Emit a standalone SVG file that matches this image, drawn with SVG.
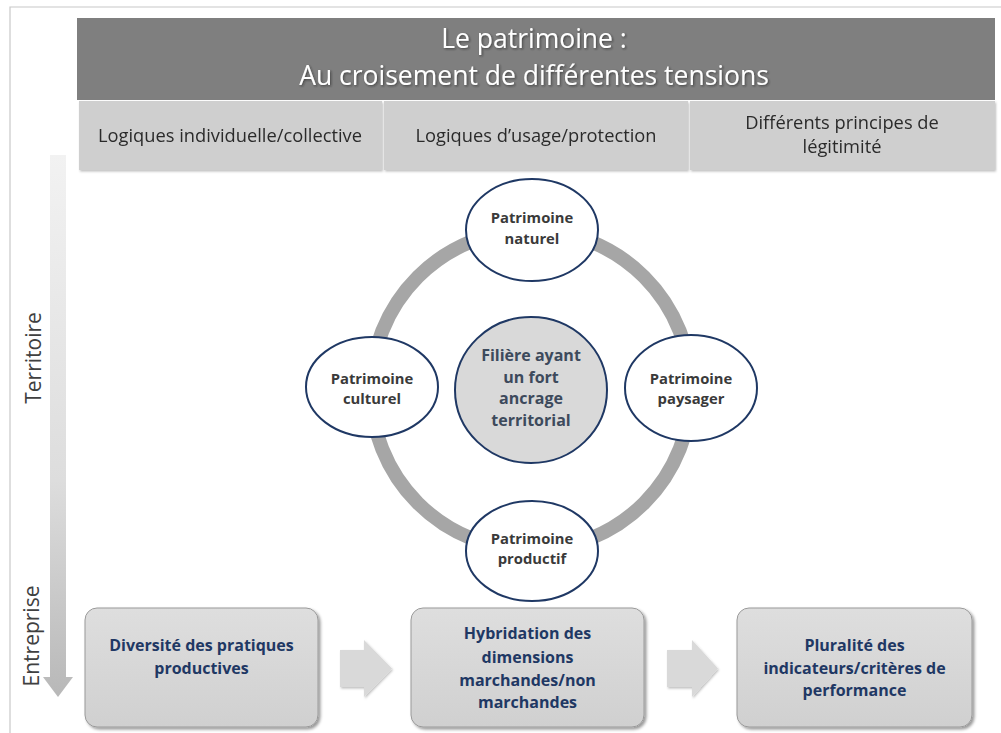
<svg xmlns="http://www.w3.org/2000/svg" width="1001" height="733" viewBox="0 0 1001 733">
<defs>
  <style>
    .hdr{fill:#ffffff;font-family:"Open Sans",Lato,"Liberation Sans",sans-serif;font-size:26.5px;text-anchor:middle}
    .cell{fill:#cfcfcf}
    .celltxt{fill:#2b2b2b;font-family:"Open Sans",Lato,"Liberation Sans",sans-serif;font-size:18.3px;text-anchor:middle}
    .axis{fill:#404040;font-family:"Open Sans",Lato,"Liberation Sans",sans-serif;font-size:21px;text-anchor:middle}
    .ell{fill:#ffffff;stroke:#1f3864;stroke-width:2}
    .core{fill:#d9d9d9;stroke:#1f3864;stroke-width:2}
    .elltxt{fill:#3a3a3a;font-family:"Open Sans",Lato,"Liberation Sans",sans-serif;font-size:14.8px;font-weight:bold;text-anchor:middle}
    .coretxt{fill:#3d4a5c;font-family:"Open Sans",Lato,"Liberation Sans",sans-serif;font-size:16px;font-weight:bold;text-anchor:middle}
    .box{fill:url(#boxg);stroke:#9a9a9a;stroke-width:1}
    .boxtxt{fill:#1f3864;font-family:"Open Sans",Lato,"Liberation Sans",sans-serif;font-size:16px;font-weight:bold;text-anchor:middle}
    .ring{fill:none;stroke:#a6a6a6;stroke-width:14}
    .blk{fill:#d9d9d9}
  </style>
  <linearGradient id="boxg" x1="0" y1="0" x2="0" y2="1">
    <stop offset="0" stop-color="#dedede"/>
    <stop offset="1" stop-color="#d0d0d0"/>
  </linearGradient>
  <linearGradient id="axisg" gradientUnits="userSpaceOnUse" x1="0" y1="155" x2="0" y2="697">
    <stop offset="0" stop-color="#f2f2f2"/>
    <stop offset="0.6" stop-color="#dddddd"/>
    <stop offset="1" stop-color="#b8b8b8"/>
  </linearGradient>
  <filter id="sh" x="-10%" y="-10%" width="125%" height="130%">
    <feDropShadow dx="2" dy="2" stdDeviation="1.5" flood-color="#000" flood-opacity="0.4"/>
  </filter>
  <filter id="shs" x="-10%" y="-10%" width="125%" height="130%">
    <feDropShadow dx="1" dy="1.5" stdDeviation="1" flood-color="#000" flood-opacity="0.25"/>
  </filter>
  <filter id="tsh" x="-5%" y="-20%" width="110%" height="150%">
    <feDropShadow dx="1.2" dy="1.2" stdDeviation="0.8" flood-color="#202020" flood-opacity="0.6"/>
  </filter>
</defs>

<rect x="0" y="0" width="1001" height="733" fill="#ffffff"/>
<path d="M10,740 V7 H1001" fill="none" stroke="#c8c8c8" stroke-width="1.2"/>

<g id="header">
  <rect x="77" y="18" width="918" height="82" fill="#7f7f7f"/>
  <g filter="url(#tsh)">
    <text class="hdr" x="534" y="48">Le patrimoine :</text>
    <text class="hdr" x="534" y="84.5">Au croisement de différentes tensions</text>
  </g>
</g>

<g id="tension-1" filter="url(#shs)">
  <rect class="cell" x="79" y="101" width="303" height="69"/>
  <text class="celltxt" x="230" y="142">Logiques individuelle/collective</text>
</g>
<g id="tension-2" filter="url(#shs)">
  <rect class="cell" x="384" y="101" width="304" height="69"/>
  <text class="celltxt" x="536" y="142">Logiques d’usage/protection</text>
</g>
<g id="tension-3" filter="url(#shs)">
  <rect class="cell" x="690" y="101" width="305" height="69"/>
  <text class="celltxt" x="842" y="129">Différents principes de</text>
  <text class="celltxt" x="842" y="153">légitimité</text>
</g>

<g id="axis">
  <path d="M50,155 H66 V677 H73 L58,697 L43,677 H50 Z" fill="url(#axisg)"/>
  <text class="axis" transform="translate(41,358) rotate(-90)">Territoire</text>
  <text class="axis" transform="translate(39,636) rotate(-90)">Entreprise</text>
</g>

<g id="connectors">
  <circle class="ring" cx="531" cy="390" r="160"/>
  <polygon class="blk" filter="url(#shs)" points="340,650 364,650 364,640 392,668.5 364,697 364,687 340,687"/>
  <polygon class="blk" filter="url(#shs)" points="667,650 692,650 692,640 718,668.5 692,697 692,687 667,687"/>
</g>

<g id="core">
  <ellipse class="core" cx="531" cy="390" rx="76" ry="73"/>
  <text class="coretxt" x="531" y="361">Filière ayant</text>
  <text class="coretxt" x="531" y="383">un fort</text>
  <text class="coretxt" x="531" y="404">ancrage</text>
  <text class="coretxt" x="531" y="426">territorial</text>
</g>

<g id="patrimoine-naturel">
  <ellipse class="ell" cx="532" cy="230" rx="66" ry="51"/>
  <text class="elltxt" x="532" y="223">Patrimoine</text>
  <text class="elltxt" x="532" y="244">naturel</text>
</g>
<g id="patrimoine-culturel">
  <ellipse class="ell" cx="372" cy="387" rx="66" ry="50"/>
  <text class="elltxt" x="372" y="384">Patrimoine</text>
  <text class="elltxt" x="372" y="404">culturel</text>
</g>
<g id="patrimoine-paysager">
  <ellipse class="ell" cx="691" cy="388" rx="66" ry="53"/>
  <text class="elltxt" x="691" y="384">Patrimoine</text>
  <text class="elltxt" x="691" y="404">paysager</text>
</g>
<g id="patrimoine-productif">
  <ellipse class="ell" cx="532" cy="551" rx="66" ry="50"/>
  <text class="elltxt" x="532" y="544">Patrimoine</text>
  <text class="elltxt" x="532" y="564">productif</text>
</g>

<g id="box-diversite">
  <rect class="box" filter="url(#sh)" x="85" y="608" width="233" height="119" rx="12"/>
  <text class="boxtxt" x="201.5" y="651">Diversité des pratiques</text>
  <text class="boxtxt" x="201.5" y="674">productives</text>
</g>
<g id="box-hybridation">
  <rect class="box" filter="url(#sh)" x="411" y="608" width="233" height="119" rx="12"/>
  <text class="boxtxt" x="527.5" y="639">Hybridation des</text>
  <text class="boxtxt" x="527.5" y="663">dimensions</text>
  <text class="boxtxt" x="527.5" y="686">marchandes/non</text>
  <text class="boxtxt" x="527.5" y="708">marchandes</text>
</g>
<g id="box-pluralite">
  <rect class="box" filter="url(#sh)" x="737" y="608" width="235" height="119" rx="12"/>
  <text class="boxtxt" x="854.5" y="651">Pluralité des</text>
  <text class="boxtxt" x="854.5" y="674">indicateurs/critères de</text>
  <text class="boxtxt" x="854.5" y="696">performance</text>
</g>
</svg>
